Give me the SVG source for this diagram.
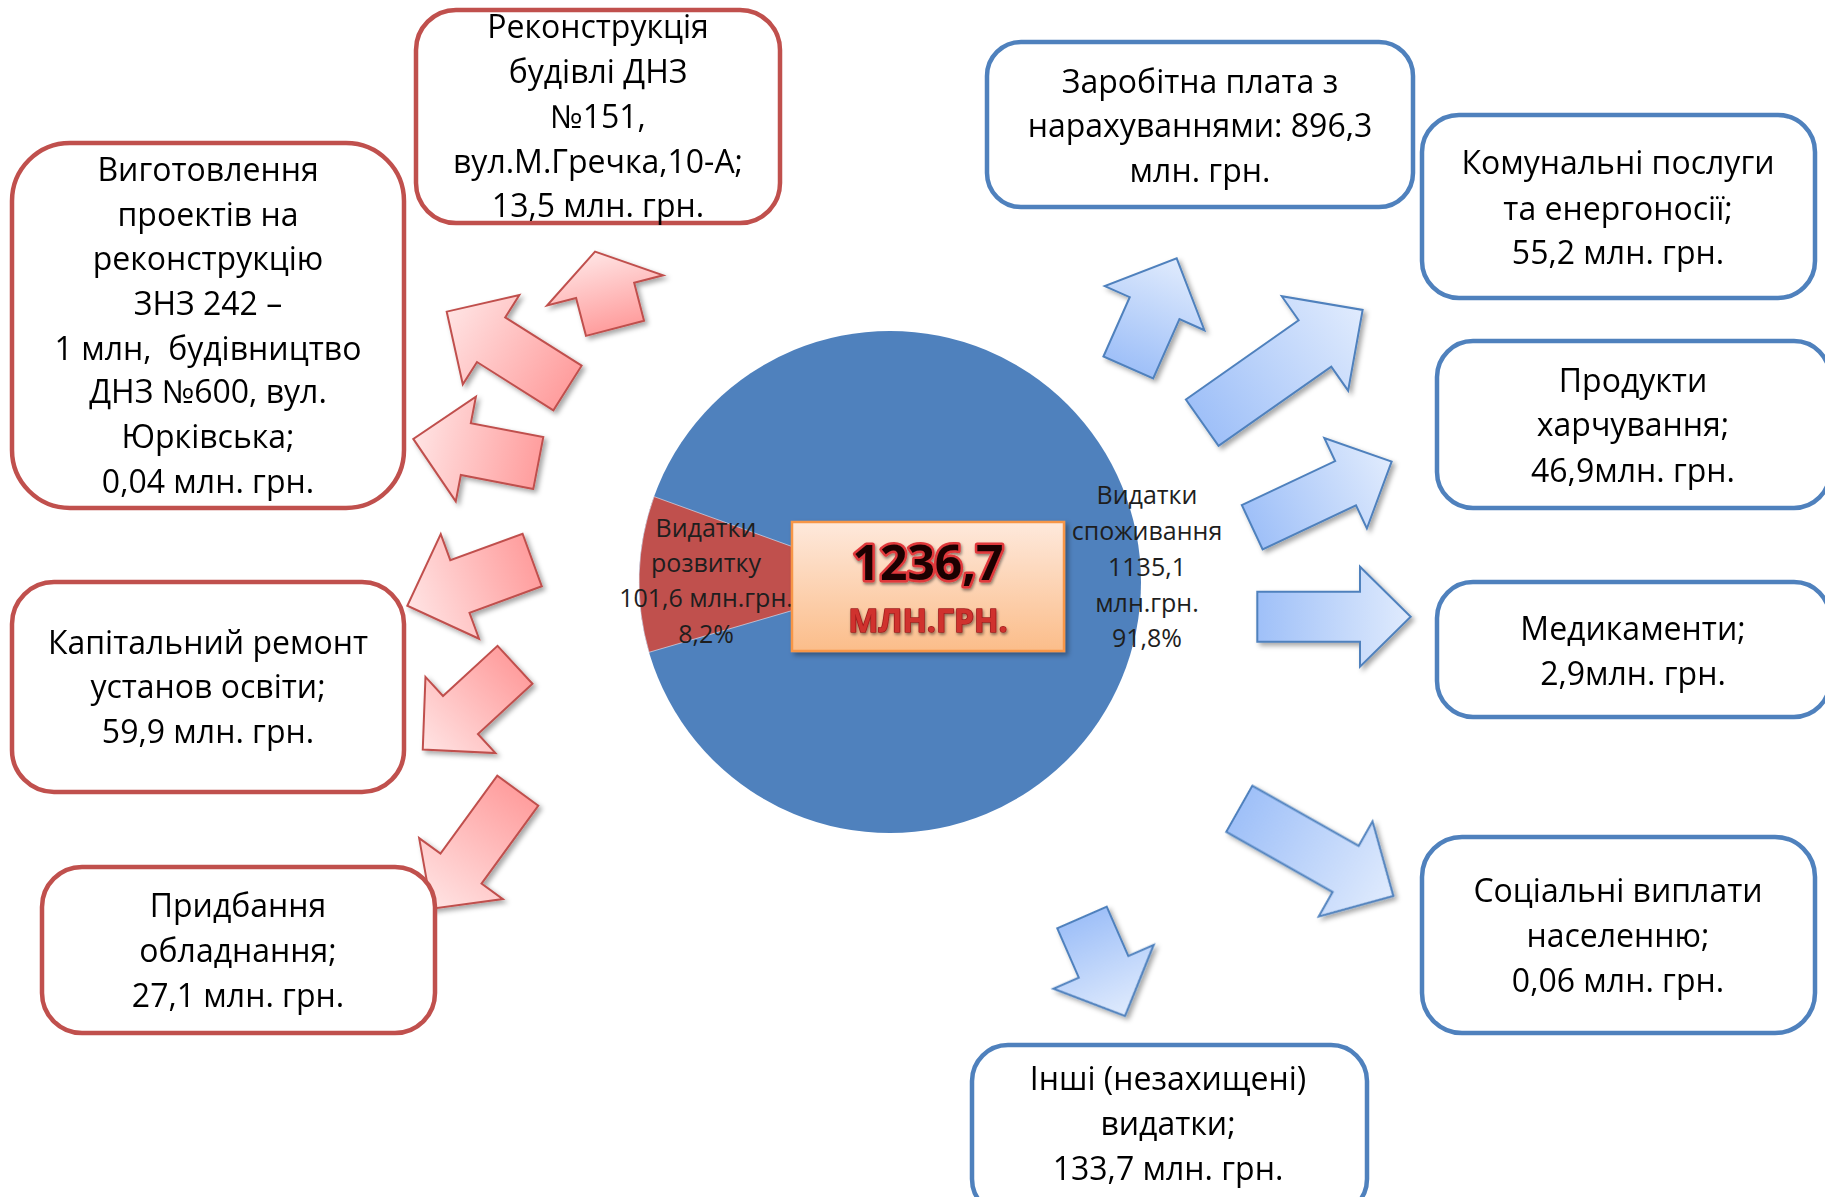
<svg xmlns="http://www.w3.org/2000/svg" width="1825" height="1197" viewBox="0 0 1825 1197">
<style>
.box text{font-family:"Open Sans","Noto Sans","DejaVu Sans",sans-serif;font-size:32px;fill:#000;text-anchor:middle;white-space:pre}
.rb{fill:#fff;stroke:#c0504d;stroke-width:4.5}
.bb{fill:#fff;stroke:#4f81bd;stroke-width:4.5}
.ra{fill:url(#gRed);stroke:#c0504d;stroke-width:2;stroke-linejoin:miter}
.ba{fill:url(#gBlue);stroke:#4f81bd;stroke-width:2;stroke-linejoin:miter}
.pl{font-family:"Open Sans","Noto Sans","DejaVu Sans",sans-serif;font-size:25px;fill:#1e1e1e;text-anchor:middle}
</style>
<defs>
<linearGradient id="gRed" x1="0" y1="0" x2="1" y2="0">
<stop offset="0" stop-color="#ff9e9e"/>
<stop offset="1" stop-color="#ffe4e4"/>
</linearGradient>
<linearGradient id="gBlue" x1="0" y1="0" x2="1" y2="0">
<stop offset="0" stop-color="#9fc0f8"/>
<stop offset="1" stop-color="#e0ebfd"/>
</linearGradient>
<linearGradient id="gOrange" x1="0" y1="0" x2="0" y2="1">
<stop offset="0" stop-color="#fee9dc"/>
<stop offset="1" stop-color="#fbbd8a"/>
</linearGradient>
<filter id="shadow" x="-20%" y="-20%" width="140%" height="140%">
<feDropShadow dx="3" dy="3" stdDeviation="2.5" flood-color="#000" flood-opacity="0.35"/>
</filter>
<filter id="tshadow" x="-10%" y="-30%" width="120%" height="160%">
<feDropShadow dx="1" dy="2" stdDeviation="1.5" flood-color="#000" flood-opacity="0.45"/>
</filter>
</defs>
<rect width="1825" height="1197" fill="#fff"/>

<g id="pie">
<circle cx="890" cy="582" r="251" fill="#4f81bd"/>
<path d="M890,582 L654,496.6 A251,251 0 0 0 649,652.3 Z" fill="#c0504d" stroke="#e8eef8" stroke-width="1" stroke-opacity="0.6"/>
<g class="pl">
<text x="706" y="537">Видатки</text>
<text x="706" y="572">розвитку</text>
<text x="706" y="607">101,6 млн.грн.</text>
<text x="706" y="643">8,2%</text>
</g>
<g class="pl">
<text x="1147" y="504">Видатки</text>
<text x="1147" y="540">споживання</text>
<text x="1147" y="576">1135,1</text>
<text x="1147" y="612">млн.грн.</text>
<text x="1147" y="647">91,8%</text>
</g>
</g>

<g id="total">
<rect x="792" y="522" width="272" height="129" fill="url(#gOrange)" stroke="#f79646" stroke-width="2.5" filter="url(#shadow)"/>
<g filter="url(#tshadow)" style="font-family:'Open Sans','Noto Sans',sans-serif;font-weight:bold;text-anchor:middle">
<text x="928" y="580" font-size="48" fill="#1c0606" stroke="#e0393b" stroke-width="5" paint-order="stroke" stroke-linejoin="round">1236,7</text>
<text x="928" y="632" font-size="32" fill="#d0302e" stroke="#9e1c1c" stroke-width="1.5" paint-order="stroke" stroke-linejoin="round">МЛН.ГРН.</text>
</g>
</g>

<g id="connectors" filter="url(#shadow)">
<polygon class="ra" transform="translate(567.5,388) rotate(212.3)" points="0,-26.4 90.4,-26.4 90.4,-52.9 142.9,0 90.4,52.9 90.4,26.4 0,26.4"/>
<polygon class="ra" transform="translate(615,328.3) rotate(255.4)" points="0,-30 39.2,-30 39.2,-60 79.2,0 39.2,60 39.2,30 0,30"/>
<polygon class="ra" transform="translate(538.3,463) rotate(190.9)" points="0,-26.4 73.8,-26.4 73.8,-53.3 127.3,0 73.8,53.3 73.8,26.4 0,26.4"/>
<polygon class="ra" transform="translate(532.2,560) rotate(159.9)" points="0,-28 77,-28 77,-55.7 133,0 77,55.7 77,28 0,28"/>
<polygon class="ra" transform="translate(515,664.8) rotate(137.4)" points="0,-25.8 74.1,-25.8 74.1,-51.7 125.3,0 74.1,51.7 74.1,25.8 0,25.8"/>
<polygon class="ra" transform="translate(517.8,790.7) rotate(126.1)" points="0,-25.4 96.4,-25.4 96.4,-51.8 146,0 96.4,51.8 96.4,25.4 0,25.4"/>
<polygon class="ba" transform="translate(1128.3,367.5) rotate(-66.1)" points="0,-27.2 64.9,-27.2 64.9,-54.5 119.4,0 64.9,54.5 64.9,27.2 0,27.2"/>
<polygon class="ba" transform="translate(1202.2,422.7) rotate(-35.1)" points="0,-28.4 137.8,-28.4 137.8,-57.7 196.1,0 137.8,57.7 137.8,28.4 0,28.4"/>
<polygon class="ba" transform="translate(1252.2,527.2) rotate(-25.2)" points="0,-24.5 103.2,-24.5 103.2,-50 154.1,0 103.2,50 103.2,24.5 0,24.5"/>
<polygon class="ba" transform="translate(1257.3,616.7)" points="0,-25 102.7,-25 102.7,-50 153.4,0 102.7,50 102.7,25 0,25"/>
<polygon class="ba" transform="translate(1239.3,808.8) rotate(29.5)" points="0,-26.5 122.2,-26.5 122.2,-54.7 177,0 122.2,54.7 122.2,26.5 0,26.5"/>
<polygon class="ba" transform="translate(1082,917.5) rotate(66.4)" points="0,-27 53.8,-27 53.8,-54.8 107.5,0 53.8,54.8 53.8,27 0,27"/>
</g>

<g id="box-proekty" class="box">
<rect class="rb" x="12" y="143" width="392" height="365" rx="58"/>
<text x="208" y="181">Виготовлення</text>
<text x="208" y="226">проектів на</text>
<text x="208" y="270">реконструкцію</text>
<text x="208" y="315">ЗНЗ 242 –</text>
<text x="208" y="360">1 млн,  будівництво</text>
<text x="208" y="403">ДНЗ №600, вул.</text>
<text x="208" y="448">Юрківська;</text>
<text x="208" y="493">0,04 млн. грн.</text>
</g>

<g id="box-rekonstr" class="box">
<rect class="rb" x="416" y="10" width="364" height="213" rx="40"/>
<text x="598" y="38">Реконструкція</text>
<text x="598" y="83">будівлі ДНЗ</text>
<text x="598" y="128">№151,</text>
<text x="598" y="173">вул.М.Гречка,10-А;</text>
<text x="598" y="217">13,5 млн. грн.</text>
</g>

<g id="box-kapremont" class="box">
<rect class="rb" x="12" y="582" width="392" height="210" rx="42"/>
<text x="208" y="654">Капітальний ремонт</text>
<text x="208" y="698">установ освіти;</text>
<text x="208" y="743">59,9 млн. грн.</text>
</g>

<g id="box-obladnannia" class="box">
<rect class="rb" x="42" y="867" width="393" height="166" rx="40"/>
<text x="238" y="917">Придбання</text>
<text x="238" y="962">обладнання;</text>
<text x="238" y="1007">27,1 млн. грн.</text>
</g>

<g id="box-zarplata" class="box">
<rect class="bb" x="987" y="42" width="426" height="165" rx="34"/>
<text x="1200" y="93">Заробітна плата з</text>
<text x="1200" y="137">нарахуваннями: 896,3</text>
<text x="1200" y="182">млн. грн.</text>
</g>

<g id="box-komunalni" class="box">
<rect class="bb" x="1422" y="115" width="393" height="183" rx="37"/>
<text x="1618" y="174">Комунальні послуги</text>
<text x="1618" y="220">та енергоносії;</text>
<text x="1618" y="264">55,2 млн. грн.</text>
</g>

<g id="box-produkty" class="box">
<rect class="bb" x="1437" y="341" width="393" height="167" rx="36"/>
<text x="1633" y="392">Продукти</text>
<text x="1633" y="436">харчування;</text>
<text x="1633" y="482">46,9млн. грн.</text>
</g>

<g id="box-medykamenty" class="box">
<rect class="bb" x="1437" y="582" width="393" height="135" rx="36"/>
<text x="1633" y="640">Медикаменти;</text>
<text x="1633" y="685">2,9млн. грн.</text>
</g>

<g id="box-sotsialni" class="box">
<rect class="bb" x="1422" y="837" width="393" height="196" rx="40"/>
<text x="1618" y="902">Соціальні виплати</text>
<text x="1618" y="947">населенню;</text>
<text x="1618" y="992">0,06 млн. грн.</text>
</g>

<g id="box-inshi" class="box">
<rect class="bb" x="972" y="1045" width="395" height="170" rx="36"/>
<text x="1168" y="1090">Інші (незахищені)</text>
<text x="1168" y="1135">видатки;</text>
<text x="1168" y="1180">133,7 млн. грн.</text>
</g>
</svg>
